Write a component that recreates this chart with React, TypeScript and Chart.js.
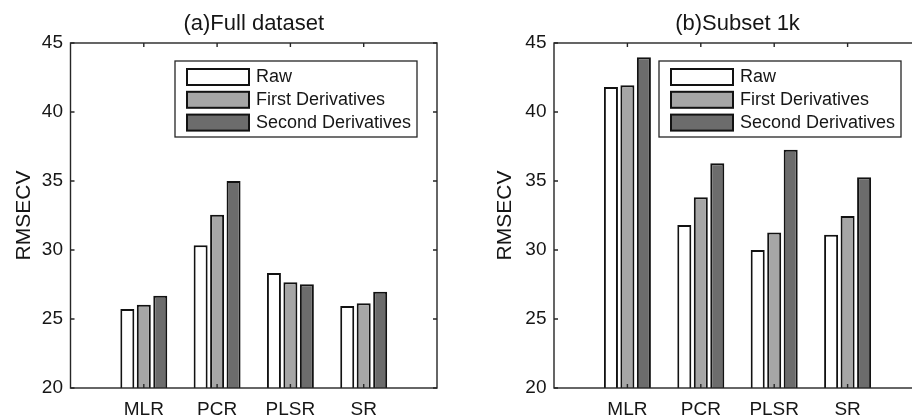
import React, { useEffect, useRef } from 'react';
import { Chart, registerables } from 'chart.js';

Chart.register(...registerables);

// ---------- data ----------
const categories = ['MLR', 'PCR', 'PLSR', 'SR'];
const seriesNames = ['Raw', 'First Derivatives', 'Second Derivatives'];
const seriesColors = ['#ffffff', '#a6a6a6', '#6c6c6c'];

const fullRaw = [25.72, 30.34, 28.33, 25.94];
const fullFirst = [26.04, 32.56, 27.66, 26.14];
const fullSecond = [26.69, 35.0, 27.51, 26.98];

const subRaw = [41.81, 31.81, 30.0, 31.11];
const subFirst = [41.93, 33.82, 31.26, 32.46];
const subSecond = [43.96, 36.28, 37.27, 35.27];

const yTicks = [20, 25, 30, 35, 40, 45];
const yMin = 20;
const yMax = 45;
const titleA = '(a)Full dataset';
const titleB = '(b)Subset 1k';
const yLabel = 'RMSECV';

const FONT = "'Liberation Sans', Arial, Helvetica, sans-serif";
const INK = '#161616';

const framePlugin = {
  id: 'frameAndLegend',
  afterDraw(chart: any) {
    const { ctx, chartArea: a, scales } = chart;
    const xs = scales.x;
    const ys = scales.y;
    ctx.save();
    // axes box
    ctx.strokeStyle = '#262626';
    ctx.lineWidth = 1.4;
    ctx.strokeRect(a.left, a.top, a.right - a.left, a.bottom - a.top);
    // inward tick marks
    const tl = 4;
    ctx.beginPath();
    yTicks.forEach((v) => {
      const py = ys.getPixelForValue(v);
      ctx.moveTo(a.left, py);
      ctx.lineTo(a.left + tl, py);
      ctx.moveTo(a.right, py);
      ctx.lineTo(a.right - tl, py);
    });
    categories.forEach((_c, i) => {
      const px = xs.getPixelForValue(i + 1);
      ctx.moveTo(px, a.bottom);
      ctx.lineTo(px, a.bottom - tl);
      ctx.moveTo(px, a.top);
      ctx.lineTo(px, a.top + tl);
    });
    ctx.stroke();

    // legend (northeast, inside axes)
    const bw = 242;
    const bh = 76;
    const bx = a.right - 20 - bw;
    const by = a.top + 18;
    ctx.fillStyle = '#ffffff';
    ctx.fillRect(bx, by, bw, bh);
    ctx.strokeStyle = '#262626';
    ctx.lineWidth = 1.3;
    ctx.strokeRect(bx, by, bw, bh);
    ctx.font = `18px ${FONT}`;
    ctx.textBaseline = 'middle';
    ctx.textAlign = 'left';
    chart.data.datasets.forEach((ds: any, i: number) => {
      const sy = by + 8 + i * 22.8;
      ctx.fillStyle = ds.backgroundColor;
      ctx.fillRect(bx + 12, sy, 62, 16);
      ctx.strokeStyle = '#121212';
      ctx.lineWidth = 2;
      ctx.strokeRect(bx + 12, sy, 62, 16);
      ctx.fillStyle = INK;
      ctx.fillText(ds.label, bx + 81, sy + 8.5);
    });
    ctx.restore();
  },
};

function makeConfig(
  title: string,
  series: number[][],
  yAxisWidth: number,
  yTitleOffset: number
): any {
  const labels = ['', ...categories, ''];
  return {
    type: 'bar',
    data: {
      labels,
      datasets: series.map((vals, i) => ({
        label: seriesNames[i],
        data: [null, ...vals, null],
        backgroundColor: seriesColors[i],
        borderColor: '#121212',
        borderWidth: 2,
        borderSkipped: false,
        categoryPercentage: 0.674,
        barPercentage: 0.85,
      })),
    },
    options: {
      responsive: false,
      animation: false,
      layout: { padding: { left: 0, right: 19, top: 0, bottom: 0 } },
      plugins: {
        legend: { display: false },
        tooltip: { enabled: false },
        title: {
          display: true,
          text: title,
          fullSize: false,
          color: INK,
          font: { family: FONT, size: 22, weight: 'normal', lineHeight: 1.2 },
          padding: { top: 10.3, bottom: 6.3 },
        },
      },
      scales: {
        x: {
          type: 'category',
          offset: false,
          grid: { display: false, drawTicks: false },
          border: { display: false },
          ticks: {
            autoSkip: false,
            maxRotation: 0,
            minRotation: 0,
            padding: 10.8,
            color: INK,
            font: { family: FONT, size: 19 },
          },
          afterFit: (s: any) => {
            s.height = 29;
          },
        },
        y: {
          min: yMin,
          max: yMax,
          grid: { display: false, drawTicks: false },
          border: { display: false },
          ticks: {
            stepSize: 5,
            padding: 7.5,
            color: INK,
            font: { family: FONT, size: 19 },
          },
          title: {
            display: true,
            text: yLabel,
            color: INK,
            font: { family: FONT, size: 21, lineHeight: 1.2 },
            padding: { top: yTitleOffset - 12.6, bottom: 0 },
          },
          afterFit: (s: any) => {
            s.width = yAxisWidth;
          },
        },
      },
    },
    plugins: [framePlugin],
  };
}

export default function App() {
  const refA = useRef<HTMLCanvasElement | null>(null);
  const refB = useRef<HTMLCanvasElement | null>(null);

  useEffect(() => {
    const charts: Chart[] = [];
    if (refA.current) {
      charts.push(
        new Chart(refA.current, makeConfig(titleA, [fullRaw, fullFirst, fullSecond], 70.5, 24))
      );
    }
    if (refB.current) {
      charts.push(
        new Chart(refB.current, makeConfig(titleB, [subRaw, subFirst, subSecond], 98, 49.3))
      );
    }
    return () => {
      charts.forEach((c) => c.destroy());
    };
  }, []);

  return (
    <div
      style={{
        position: 'fixed',
        left: 0,
        top: 0,
        width: 912,
        height: 417,
        overflow: 'hidden',
        background: '#ffffff',
      }}
    >
      <div style={{ position: 'absolute', left: 0, top: 0, width: 456, height: 417 }}>
        <canvas ref={refA} width={456} height={417} style={{ display: 'block' }} />
      </div>
      <div style={{ position: 'absolute', left: 456, top: 0, width: 484, height: 417 }}>
        <canvas ref={refB} width={484} height={417} style={{ display: 'block' }} />
      </div>
    </div>
  );
}
